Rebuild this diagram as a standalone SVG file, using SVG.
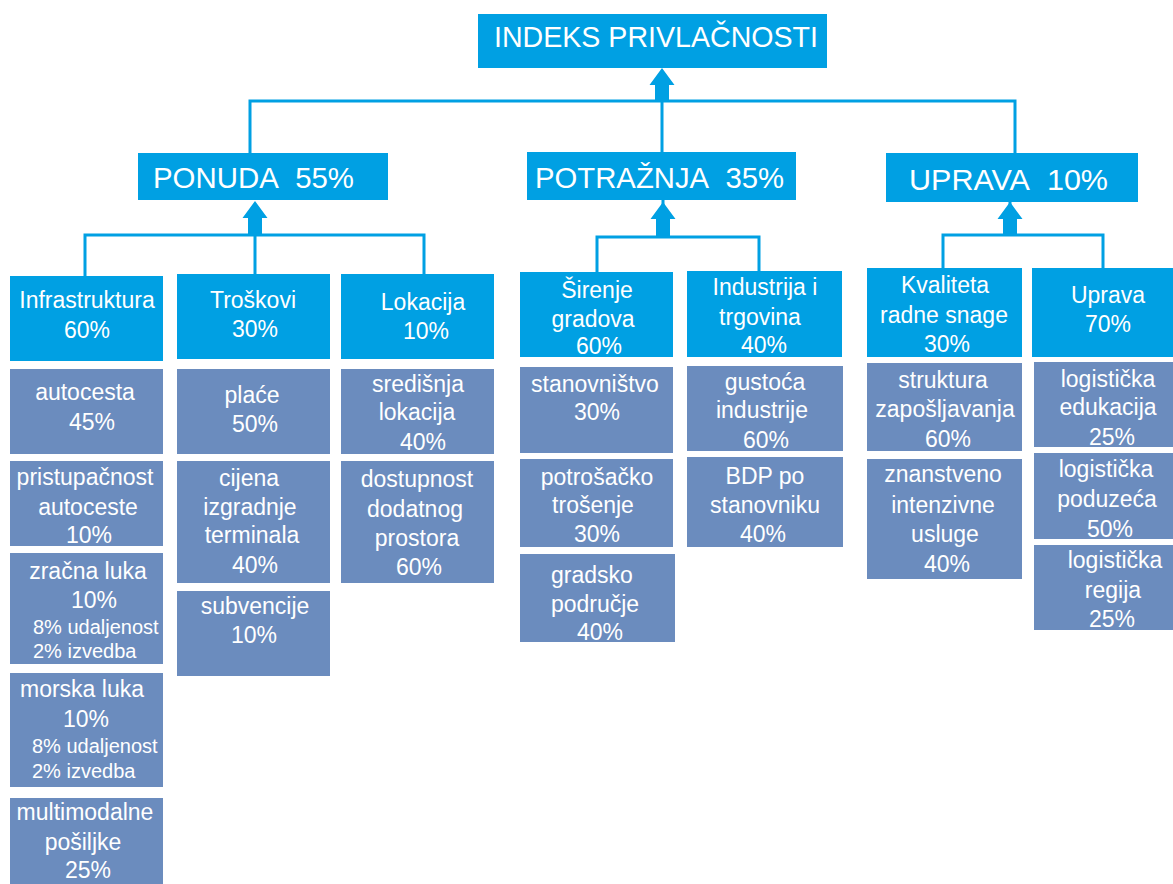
<svg xmlns="http://www.w3.org/2000/svg" xmlns:xlink="http://www.w3.org/1999/xlink" width="1173" height="884" viewBox="0 0 1173 884">
<style>
.hb{fill:#00A0E3}
.lb{fill:#6B8CBE}
.ln{stroke:#00A0E3;stroke-width:3;fill:none}
.t{font-family:"Liberation Sans",Arial,sans-serif;fill:#fff;font-size:23px;text-anchor:middle}
.s{font-size:20px;text-anchor:start}
.h{font-family:"Liberation Sans",Arial,sans-serif;fill:#fff;font-size:29px}
</style>
<defs>
<path id="arr" d="M0,0 L12.5,17 L7,17 L7,34 L-7,34 L-7,17 L-12.5,17 Z" fill="#00A0E3"/>
</defs>
<rect width="1173" height="884" fill="#fff"/>
<g id="connectors">
<path class="ln" d="M250,153 V101 H1015 V153 M662,101 V152"/>
<path class="ln" d="M85,276 V235 H424 V274 M255,235 V274"/>
<path class="ln" d="M597,272 V237 H759 V271 M663,237 V200"/>
<path class="ln" d="M943,268 V235 H1103 V268 M1010,235 V202"/>
<use xlink:href="#arr" x="662" y="68"/>
<use xlink:href="#arr" x="255" y="201"/>
<use xlink:href="#arr" x="663" y="202"/>
<use xlink:href="#arr" x="1010" y="202"/>
</g>
<g id="n-root"><rect class="hb" x="478" y="14" width="349" height="54"/><text class="h" x="494" y="47" font-size="30" textLength="324" lengthAdjust="spacingAndGlyphs">INDEKS PRIVLAČNOSTI</text></g>
<g id="n-ponuda"><rect class="hb" x="138" y="153" width="250" height="47"/><text class="h" x="153" y="188" textLength="201" lengthAdjust="spacingAndGlyphs">PONUDA&#160;&#160;55%</text></g>
<g id="n-potraznja"><rect class="hb" x="527" y="152" width="269" height="48"/><text class="h" x="535" y="188" textLength="249" lengthAdjust="spacingAndGlyphs">POTRAŽNJA&#160;&#160;35%</text></g>
<g id="n-uprava"><rect class="hb" x="886" y="153" width="252" height="49"/><text class="h" x="909" y="190" textLength="199" lengthAdjust="spacingAndGlyphs">UPRAVA&#160;&#160;10%</text></g>

<g id="n-infra"><rect class="hb" x="10" y="276" width="153" height="85"/><text class="t" x="87" y="308">Infrastruktura</text><text class="t" x="87" y="338">60%</text></g>
<g id="n-troskovi"><rect class="hb" x="177" y="274" width="153" height="85"/><text class="t" x="253" y="308">Troškovi</text><text class="t" x="255" y="337">30%</text></g>
<g id="n-lokacija"><rect class="hb" x="341" y="274" width="153" height="85"/><text class="t" x="423" y="310">Lokacija</text><text class="t" x="426" y="339">10%</text></g>

<g id="n-autocesta"><rect class="lb" x="10" y="369" width="153" height="85"/><text class="t" x="85" y="400">autocesta</text><text class="t" x="92" y="430">45%</text></g>
<g id="n-pristup"><rect class="lb" x="10" y="461" width="153" height="85"/><text class="t" x="85" y="485">pristupačnost</text><text class="t" x="88" y="515">autoceste</text><text class="t" x="89" y="543">10%</text></g>
<g id="n-zracna"><rect class="lb" x="10" y="553" width="153" height="111"/><text class="t" x="88" y="579">zračna luka</text><text class="t" x="94" y="608">10%</text><text class="t s" x="33" y="634">8% udaljenost</text><text class="t s" x="33" y="658">2% izvedba</text></g>
<g id="n-morska"><rect class="lb" x="10" y="673" width="153" height="114"/><text class="t" x="82" y="697">morska luka</text><text class="t" x="86" y="727">10%</text><text class="t s" x="32" y="753">8% udaljenost</text><text class="t s" x="32" y="778">2% izvedba</text></g>
<g id="n-multi"><rect class="lb" x="10" y="798" width="153" height="92"/><text class="t" x="85" y="820">multimodalne</text><text class="t" x="83" y="850">pošiljke</text><text class="t" x="88" y="878">25%</text></g>

<g id="n-place"><rect class="lb" x="177" y="369" width="153" height="85"/><text class="t" x="252" y="403">plaće</text><text class="t" x="255" y="432">50%</text></g>
<g id="n-cijena"><rect class="lb" x="177" y="461" width="153" height="122"/><text class="t" x="249" y="486">cijena</text><text class="t" x="250" y="515">izgradnje</text><text class="t" x="252" y="543">terminala</text><text class="t" x="255" y="573">40%</text></g>
<g id="n-subv"><rect class="lb" x="177" y="591" width="153" height="85"/><text class="t" x="255" y="614">subvencije</text><text class="t" x="254" y="643">10%</text></g>

<g id="n-sredisnja"><rect class="lb" x="341" y="369" width="153" height="85"/><text class="t" x="418" y="392">središnja</text><text class="t" x="417" y="420">lokacija</text><text class="t" x="423" y="450">40%</text></g>
<g id="n-dostupnost"><rect class="lb" x="341" y="461" width="153" height="122"/><text class="t" x="417" y="487">dostupnost</text><text class="t" x="415" y="517">dodatnog</text><text class="t" x="417" y="546">prostora</text><text class="t" x="419" y="575">60%</text></g>

<g id="n-sirenje"><rect class="hb" x="520" y="272" width="153" height="85"/><text class="t" x="597" y="298">Širenje</text><text class="t" x="593" y="327">gradova</text><text class="t" x="599" y="354">60%</text></g>
<g id="n-stan"><rect class="lb" x="520" y="367" width="153" height="86"/><text class="t" x="595" y="392">stanovništvo</text><text class="t" x="597" y="420">30%</text></g>
<g id="n-potros"><rect class="lb" x="520" y="459" width="153" height="88"/><text class="t" x="597" y="485">potrošačko</text><text class="t" x="593" y="513">trošenje</text><text class="t" x="597" y="542">30%</text></g>
<g id="n-gradsko"><rect class="lb" x="520" y="554" width="155" height="88"/><text class="t" x="592" y="583">gradsko</text><text class="t" x="595" y="612">područje</text><text class="t" x="600" y="640">40%</text></g>

<g id="n-industrija"><rect class="hb" x="687" y="271" width="155" height="86"/><text class="t" x="765" y="295">Industrija i</text><text class="t" x="760" y="325">trgovina</text><text class="t" x="764" y="353">40%</text></g>
<g id="n-gustoca"><rect class="lb" x="687" y="366" width="156" height="85"/><text class="t" x="765" y="390">gustoća</text><text class="t" x="762" y="418">industrije</text><text class="t" x="766" y="448">60%</text></g>
<g id="n-bdp"><rect class="lb" x="687" y="457" width="156" height="90"/><text class="t" x="765" y="484">BDP po</text><text class="t" x="765" y="513">stanovniku</text><text class="t" x="763" y="542">40%</text></g>

<g id="n-kvaliteta"><rect class="hb" x="867" y="268" width="155" height="89"/><text class="t" x="945" y="293">Kvaliteta</text><text class="t" x="944" y="323">radne snage</text><text class="t" x="947" y="352">30%</text></g>
<g id="n-struktura"><rect class="lb" x="867" y="363" width="155" height="88"/><text class="t" x="943" y="388">struktura</text><text class="t" x="945" y="417">zapošljavanja</text><text class="t" x="948" y="447">60%</text></g>
<g id="n-znanstveno"><rect class="lb" x="867" y="459" width="155" height="120"/><text class="t" x="943" y="482">znanstveno</text><text class="t" x="943" y="513">intenzivne</text><text class="t" x="945" y="542">usluge</text><text class="t" x="947" y="572">40%</text></g>

<g id="n-uprava2"><rect class="hb" x="1032" y="268" width="150" height="89"/><text class="t" x="1108" y="303">Uprava</text><text class="t" x="1108" y="332">70%</text></g>
<g id="n-edukacija"><rect class="lb" x="1034" y="362" width="150" height="85"/><text class="t" x="1108" y="387">logistička</text><text class="t" x="1108" y="415">edukacija</text><text class="t" x="1112" y="445">25%</text></g>
<g id="n-poduzeca"><rect class="lb" x="1034" y="453" width="150" height="86"/><text class="t" x="1106" y="477">logistička</text><text class="t" x="1107" y="507">poduzeća</text><text class="t" x="1110" y="537">50%</text></g>
<g id="n-regija"><rect class="lb" x="1034" y="545" width="150" height="85"/><text class="t" x="1115" y="568">logistička</text><text class="t" x="1113" y="598">regija</text><text class="t" x="1112" y="627">25%</text></g>
</svg>
